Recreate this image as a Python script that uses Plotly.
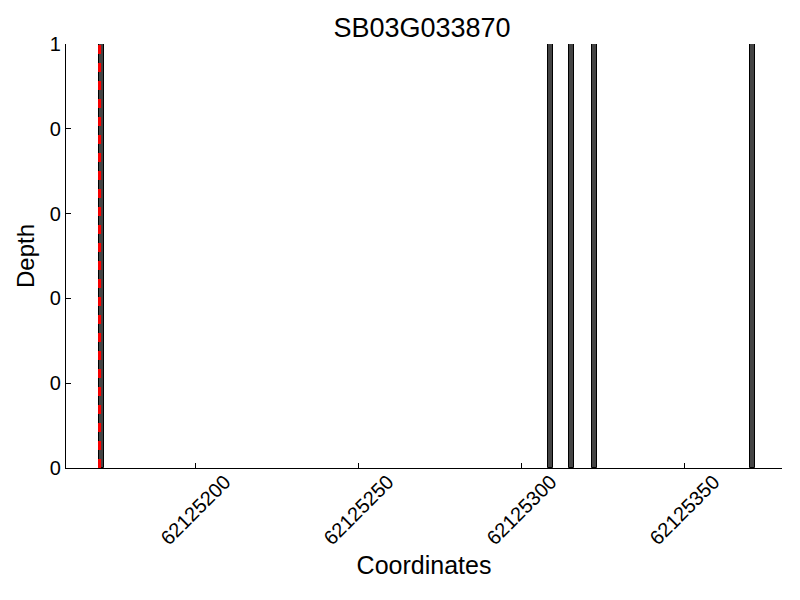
import plotly.graph_objects as go

title = "SB03G033870"
positions = [62125171.2, 62125308.9, 62125315.5, 62125322.4, 62125370.9]
depths = [1, 1, 1, 1, 1]
marker_pos = 62125170.6
x_ticks = [62125200, 62125250, 62125300, 62125350]
y_ticks = [0, 0.2, 0.4, 0.6, 0.8, 1.0]
y_tick_text = ["0", "0", "0", "0", "0", "1"]

fig = go.Figure()
fig.add_trace(go.Bar(x=positions, y=depths, width=1.5,
                     marker=dict(color="#444444", line=dict(color="black", width=1)),
                     showlegend=False))
fig.add_trace(go.Scatter(x=[marker_pos, marker_pos], y=[0, 1], mode="lines",
                         line=dict(color="red", width=3, dash="dash"), showlegend=False))

font = "Liberation Sans, Arial, sans-serif"
fig.update_layout(
    width=800, height=600,
    margin=dict(l=58, r=26, t=36, b=140),
    plot_bgcolor="white", paper_bgcolor="white",
    font=dict(family=font, color="black"),
    title=dict(text=title, x=0.5175, xanchor="center", y=0.967, yanchor="middle",
               font=dict(size=27)),
    xaxis=dict(range=[62125160.3, 62125380], tickvals=x_ticks,
               showticklabels=False,
               ticks="inside", ticklen=5, tickcolor="black",
               showline=True, linecolor="black", linewidth=1.2, mirror=False,
               showgrid=False, zeroline=False,
               automargin=False,
               title=dict(text="Coordinates", font=dict(size=25), standoff=88)),
    yaxis=dict(range=[0, 1], tickvals=y_ticks, ticktext=y_tick_text,
               ticks="inside", ticklen=5, tickcolor="black",
               showline=True, linecolor="black", linewidth=1.2, mirror=False,
               showgrid=False, zeroline=False, tickfont=dict(size=20),
               automargin=False,
               title=dict(text="Depth", font=dict(size=24), standoff=8)),
    bargap=0,
)
for v in x_ticks:
    fig.add_annotation(x=v, xref="x", y=-0.099, yref="paper", text=str(v),
                       textangle=-45, showarrow=False, xanchor="center",
                       yanchor="middle", font=dict(size=20, family=font, color="black"))
fig.write_html("out.html")
